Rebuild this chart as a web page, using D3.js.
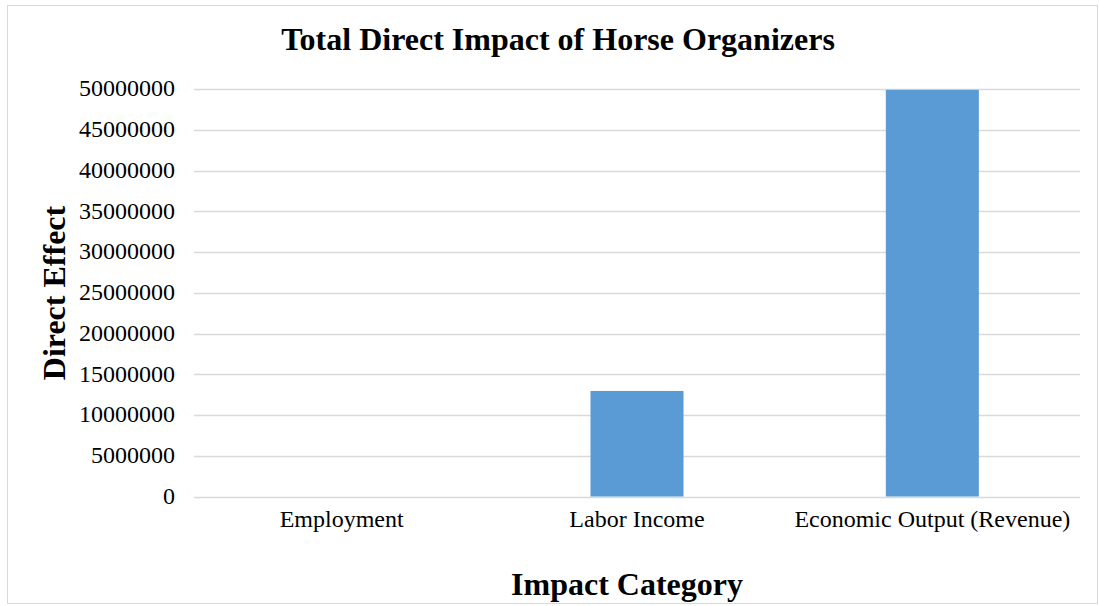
<!DOCTYPE html>
<html><head><meta charset="utf-8">
<script src="https://cdn.jsdelivr.net/npm/d3@7"></script>
<style>html,body{margin:0;padding:0;background:#fff;}svg{display:block;}</style>
</head><body>
<svg id="chart" width="1099" height="606"></svg>
<script>
const categories = ["Employment", "Labor Income", "Economic Output (Revenue)"];
const values = [180, 12950000, 49900000];
const yTicks = [0, 5000000, 10000000, 15000000, 20000000, 25000000, 30000000, 35000000, 40000000, 45000000, 50000000];
const titleText = "Total Direct Impact of Horse Organizers";
const xTitle = "Impact Category";
const yTitle = "Direct Effect";

const svg = d3.select("#chart");
const font = "'Liberation Serif','Times New Roman',serif";
const m = {left: 194, right: 1080, top: 89, bottom: 496.5};

svg.append("rect").attr("x", 7.5).attr("y", 5.5).attr("width", 1090).attr("height", 598)
  .attr("fill", "#fff").attr("stroke", "#d9d9d9").attr("stroke-width", 1);

const x = d3.scaleBand().domain(categories).range([m.left, m.right]).paddingInner(0.685).paddingOuter(0.3425);
const y = d3.scaleLinear().domain([0, 50000000]).range([m.bottom, m.top]);

// gridlines
svg.append("g").selectAll("line").data(yTicks).join("line")
  .attr("x1", m.left).attr("x2", m.right)
  .attr("y1", d => Math.round(y(d)) + 0.5).attr("y2", d => Math.round(y(d)) + 0.5)
  .attr("stroke", "#d9d9d9").attr("stroke-width", 1.5);

// y tick labels
const yAxis = d3.axisLeft(y).tickValues(yTicks).tickFormat(d => String(d)).tickSize(0).tickPadding(0);
const gy = svg.append("g").attr("transform", `translate(175,-1)`).call(yAxis);
gy.select(".domain").remove();
gy.selectAll("text").attr("font-family", font).attr("font-size", 24).attr("fill", "#000").attr("dy", "0.33em");

// bars
svg.append("g").selectAll("rect").data(values).join("rect")
  .attr("x", (d, i) => x(categories[i]))
  .attr("width", x.bandwidth())
  .attr("y", d => y(d))
  .attr("height", d => y(0) - y(d))
  .attr("fill", "#5b9bd5");

// x axis labels
const xAxis = d3.axisBottom(x).tickSize(0).tickPadding(0);
const gx = svg.append("g").attr("transform", `translate(0,527)`).call(xAxis);
gx.select(".domain").remove();
gx.selectAll("text").attr("font-family", font).attr("font-size", 24).attr("fill", "#000").attr("dy", 0);

// title
svg.append("text").attr("x", 558).attr("y", 50).attr("text-anchor", "middle")
  .attr("font-family", font).attr("font-weight", "bold").attr("font-size", 32).text(titleText);

// x title
svg.append("text").attr("x", 627).attr("y", 595).attr("text-anchor", "middle")
  .attr("font-family", font).attr("font-weight", "bold").attr("font-size", 32).text(xTitle);

// y title
svg.append("text").attr("transform", "translate(65,293) rotate(-90)").attr("text-anchor", "middle")
  .attr("font-family", font).attr("font-weight", "bold").attr("font-size", 32).text(yTitle);
</script>
</body></html>
